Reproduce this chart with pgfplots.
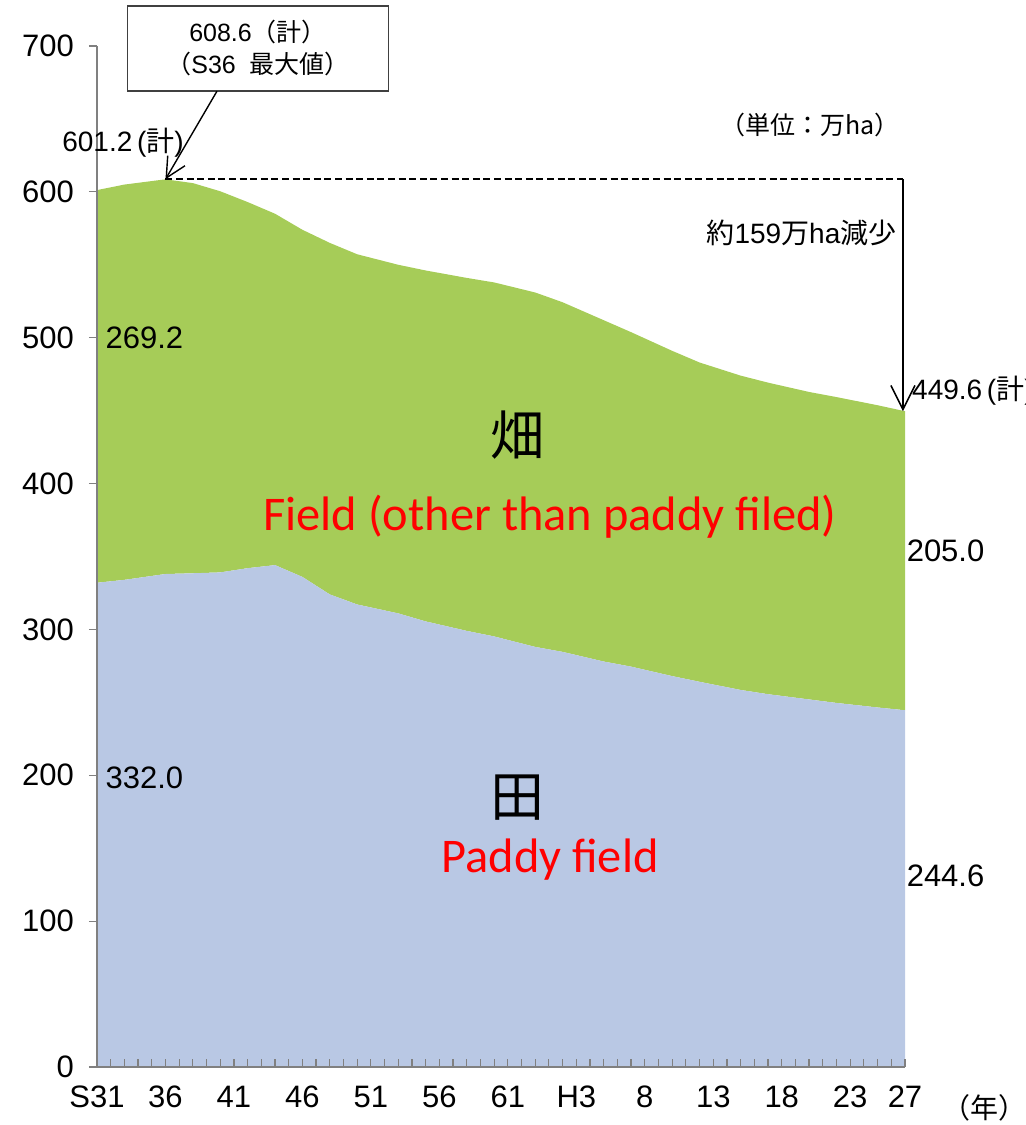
\documentclass[border=0pt]{standalone}
\usepackage{fontspec}
\setmainfont{Liberation Sans}
\newfontfamily\cjk{Noto Sans CJK JP}
\newfontfamily\calib{Carlito}
\usepackage{pgfplots}
\pgfplotsset{compat=1.18}
\usetikzlibrary{arrows.meta}
\definecolor{fieldgreen}{RGB}{166,204,88}
\definecolor{paddyblue}{RGB}{185,200,228}
\definecolor{axisgray}{RGB}{128,128,128}
\pgfplotsset{base/.style={at={(48.5pt,29pt)}, anchor=south west, scale only axis,
  width=404pt, height=510.5pt,
  xmin=1956, xmax=2015, ymin=0, ymax=700, clip=false}}
\begin{document}
\begin{tikzpicture}
\path[use as bounding box] (0,0) rectangle (513pt,562.5pt);
\begin{axis}[base, hide axis, stack plots=y]
\addplot[fill=paddyblue, draw=none] coordinates {
(1956,332.0) (1958,334) (1961,338.0) (1963,338.5) (1965,339.1) (1967,342)
(1969,344.1) (1971,336) (1973,324) (1975,317.1) (1978,311) (1980,305.5)
(1983,299) (1985,295.2) (1988,288) (1990,284.6) (1993,278) (1995,274.5)
(1998,268) (2000,264.1) (2003,258.5) (2005,255.6) (2008,252) (2010,249.6)
(2013,246.5) (2015,244.6)} \closedcycle;
\addplot[fill=fieldgreen, draw=none] coordinates {
(1956,269.2) (1958,271) (1961,270.6) (1963,267.5) (1965,261.3) (1967,251)
(1969,240.9) (1971,238) (1973,241) (1975,240.1) (1978,239) (1980,240.6)
(1983,242) (1985,242.7) (1988,243) (1990,239.7) (1993,234) (1995,229.3)
(1998,223) (2000,218.9) (2003,215.5) (2005,213.6) (2008,210.8) (2010,209.7)
(2013,207.2) (2015,205.0)} \closedcycle;
\end{axis}
\begin{axis}[base,
  axis x line=bottom, axis y line=left,
  axis line style={-, axisgray, line width=0.8pt},
  ytick={0,100,...,700},
  xtick={1956,1961,1966,1971,1976,1981,1986,1991,1996,2001,2006,2011,2015},
  xticklabels={S31,36,41,46,51,56,61,H3,8,13,18,23,27},
  minor xtick={1956,...,2015},
  xtick align=inside, ytick align=outside,
  major tick length=4pt, minor tick length=4pt,
  tick style={axisgray, line width=0.6pt},
  /pgf/number format/assume math mode=true,
  ticklabel style={font=\fontsize{15.5}{18}\selectfont},
  xticklabel style={yshift=-6pt},
  yticklabel style={xshift=-4pt}]
\draw[black, line width=1.1pt, dash pattern=on 3.5pt off 1.8pt] (axis cs:1961,608.6) -- (axis cs:2014.85,608.6);
\draw[black, line width=0.8pt, -{Straight Barb[length=12pt,width=12pt]}] (axis cs:2014.85,608.6) -- (axis cs:2014.85,449.6);
\node[draw=black!75, line width=0.8pt, fill=white, minimum width=130.5pt, minimum height=42.5pt, align=center, inner sep=2pt,
  font=\fontsize{12.5}{16}\selectfont] (box) at (axis cs:1967.76,698.3)
  {608.6{\cjk （計）}\\{\cjk （}S36\ \ {\cjk 最大値）}};
\draw[black, line width=0.7pt, -{Straight Barb[length=10pt,width=10pt]}] (axis cs:1964.76,669) -- (axis cs:1961,608.6);
\node[anchor=west, inner sep=0pt, font=\fontsize{14}{16}\selectfont] at (axis cs:1953.44,633.5) {601.2\,({\cjk 計})};
\node[inner sep=0pt, font=\fontsize{12.5}{15}\selectfont] at (axis cs:2008.06,645.8) {\cjk （単位：万ha）};
\node[anchor=east, inner sep=0pt, font=\fontsize{14}{16}\selectfont] at (axis cs:2014.4,571.8) {{\cjk 約}159{\cjk 万}ha{\cjk 減少}};
\node[anchor=west, inner sep=0pt, font=\fontsize{14}{16}\selectfont] at (axis cs:2015.5,464) {449.6\,({\cjk 計})};
\node[anchor=west, inner sep=0pt, font=\fontsize{15.5}{18}\selectfont] at (axis cs:1956.6,499.8) {269.2};
\node[anchor=west, inner sep=0pt, font=\fontsize{15.5}{18}\selectfont] at (axis cs:1956.6,198.1) {332.0};
\node[anchor=west, inner sep=0pt, font=\fontsize{15.5}{18}\selectfont] at (axis cs:2015.1,354) {205.0};
\node[anchor=west, inner sep=0pt, font=\fontsize{15.5}{18}\selectfont] at (axis cs:2015.1,131) {244.6};
\node[inner sep=0pt, font=\fontsize{27}{30}\selectfont\cjk] at (axis cs:1986.67,433.3) {畑};
\node[inner sep=0pt, font=\fontsize{27}{30}\selectfont\cjk] at (axis cs:1986.67,185) {田};
\node[inner sep=0pt, text=red, font=\fontsize{24.2}{30}\selectfont\calib] at (axis cs:1989.08,377) {Field (other than paddy filed)};
\node[inner sep=0pt, text=red, font=\fontsize{24.2}{30}\selectfont\calib] at (axis cs:1989.08,141.9) {Paddy field};
\node[inner sep=0pt, font=\fontsize{14}{16}\selectfont\cjk] at (axis cs:2020.84,-28) {（年）};
\end{axis}
\end{tikzpicture}
\end{document}
